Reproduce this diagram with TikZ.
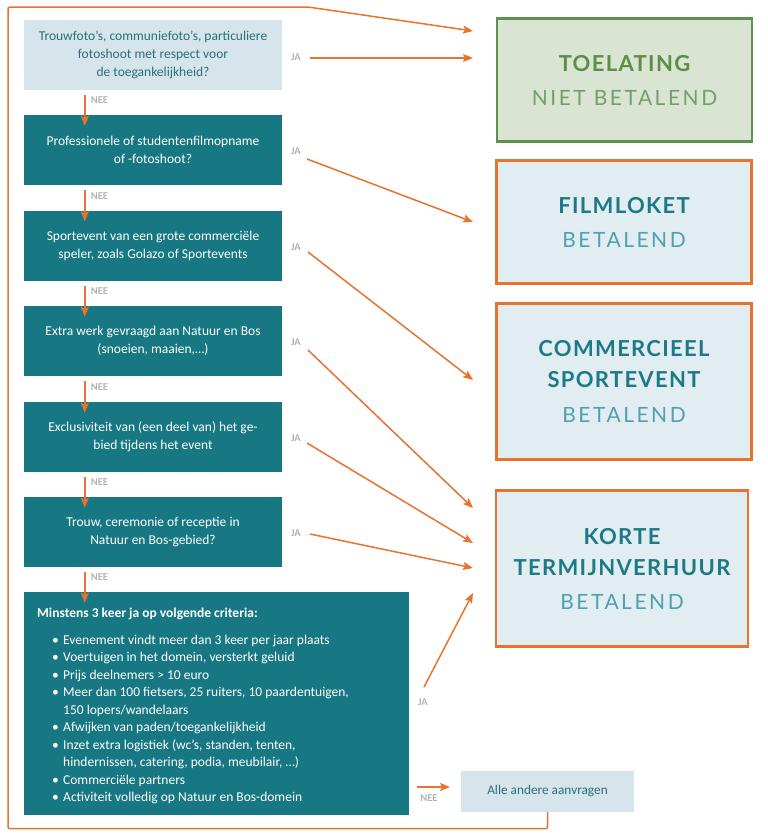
\documentclass[tikz,border=0pt]{standalone}
\usepackage{fontspec}
\setmainfont{Carlito}
\newfontfamily\titlefont[LetterSpace=6]{Lato}
\newfontfamily\subfont[LetterSpace=12]{Lato}
\usetikzlibrary{arrows.meta,calc}
\definecolor{tealbox}{HTML}{177883}
\definecolor{lightbox}{HTML}{D6E5EB}
\definecolor{darkteal}{HTML}{2B6E79}
\definecolor{orangeline}{HTML}{E8732C}
\definecolor{resfill}{HTML}{E2EDF1}
\definecolor{greenline}{HTML}{5E9150}
\definecolor{greenfill}{HTML}{D9E4D3}
\definecolor{greentext}{HTML}{5B8F45}
\definecolor{greensub}{HTML}{73A06A}
\definecolor{titleteal}{HTML}{1C7A87}
\definecolor{subteal}{HTML}{4FA0B0}
\definecolor{lblgray}{HTML}{B2B2B2}
\tikzset{
  qbox/.style={fill=tealbox, text=white, minimum width=258pt, minimum height=70pt,
    align=center, inner sep=0pt, font=\fontsize{13.5}{18}\selectfont},
  firstbox/.style={qbox, fill=lightbox, text=darkteal},
  resbox/.style={draw=orangeline, line width=2.6pt, fill=resfill, minimum width=255pt,
    align=center, inner sep=0pt, font=\fontsize{22}{31}\selectfont},
  conn/.style={draw=orangeline, line width=1.5pt, -{Stealth[length=10pt,width=8pt,inset=2pt]}},
  lbl/.style={text=lblgray, font=\fontsize{10.5}{10}\selectfont\bfseries, inner sep=0pt},
}
\newcommand\ttlf{\titlefont\bfseries\fontsize{22}{31}\selectfont}
\newcommand\subf{\subfont\fontsize{21}{31}\selectfont}
\newcommand\crit[1]{\hspace*{15pt}\makebox[11pt][l]{\textbullet}#1}
\newcommand\critcont[1]{\hspace*{26pt}#1}
\begin{document}
\begin{tikzpicture}[x=1pt,y=-1pt]
\useasboundingbox (0,0) rectangle (768,839);
% question boxes
\node[firstbox] (b1) at (153,55) {Trouwfoto’s, communiefoto’s, particuliere\\fotoshoot met respect voor\\de toegankelijkheid?};
\node[qbox] (b2) at (153,150) {Professionele of studentenfilmopname\\of -fotoshoot?};
\node[qbox] (b3) at (153,245.5) {Sportevent van een grote commerciële\\speler, zoals Golazo of Sportevents};
\node[qbox] (b4) at (153,341) {Extra werk gevraagd aan Natuur en Bos\\(snoeien, maaien,…)};
\node[qbox] (b5) at (153,437) {Exclusiviteit van (een deel van) het ge-\\bied tijdens het event};
\node[qbox] (b6) at (153,532) {Trouw, ceremonie of receptie in\\Natuur en Bos-gebied?};
\node[fill=tealbox, minimum width=385pt, minimum height=223pt, inner sep=0pt] (b7) at (216.5,703.5) {};
\node[anchor=north west, text=white, align=left, inner sep=0pt,
  font=\fontsize{13.5}{17.5}\selectfont] (crit) at (37,607.5)
  {\textbf{Minstens 3 keer ja op volgende criteria:}\\[9.5pt]
   \crit{Evenement vindt meer dan 3 keer per jaar plaats}\\
   \crit{Voertuigen in het domein, versterkt geluid}\\
   \crit{Prijs deelnemers > 10 euro}\\
   \crit{Meer dan 100 fietsers, 25 ruiters, 10 paardentuigen,}\\
   \critcont{150 lopers/wandelaars}\\
   \crit{Afwijken van paden/toegankelijkheid}\\
   \crit{Inzet extra logistiek (wc’s, standen, tenten,}\\
   \critcont{hindernissen, catering, podia, meubilair, …)}\\
   \crit{Commerciële partners}\\
   \crit{Activiteit volledig op Natuur en Bos-domein}};
% result boxes
\node[resbox, draw=greenline, fill=greenfill, minimum height=123pt] (toel) at (624.5,80)
  {{\ttlf\color{greentext}TOELATING}\\[3pt]{\subf\color{greensub}NIET BETALEND}};
\node[resbox, minimum height=123pt] (film) at (624,222)
  {{\ttlf\color{titleteal}FILMLOKET}\\[3pt]{\subf\color{subteal}BETALEND}};
\node[resbox, minimum height=156pt] (comm) at (624,381.5)
  {{\ttlf\color{titleteal}COMMERCIEEL}\\{\ttlf\color{titleteal}SPORTEVENT}\\[4pt]{\subf\color{subteal}BETALEND}};
\node[resbox, minimum width=252pt, minimum height=156pt] (korte) at (622,568.5)
  {{\ttlf\color{titleteal}KORTE}\\{\ttlf\color{titleteal}TERMIJNVERHUUR}\\[3pt]{\subf\color{subteal}BETALEND}};
\node[fill=lightbox, text=darkteal, minimum width=173pt, minimum height=41pt, inner sep=0pt,
  font=\fontsize{13.3}{14}\selectfont] (alle) at (547.5,791.5) {Alle andere aanvragen};
% NEE connectors
\foreach \a/\b in {b1/b2,b2/b3,b3/b4,b4/b5,b5/b6}{
  \draw[conn] ([xshift=61pt,yshift=-5pt]\a.south west) -- ([xshift=61pt,yshift=-11pt]\b.north west);
}
\draw[conn] ([xshift=61pt,yshift=-5pt]b6.south west) -- ([xshift=61pt,yshift=-11pt]b7.north west);
\foreach \y [count=\i] in {100,196,291,387,482,577}{
  \node[lbl] (nee\i) at (99.5,\y) {NEE};
}
% JA labels and arrows
\node[lbl] (ja1) at (296,57) {JA};
\node[lbl] (ja2) at (296,151) {JA};
\node[lbl] (ja3) at (296,247) {JA};
\node[lbl] (ja4) at (296,342) {JA};
\node[lbl] (ja5) at (296,438) {JA};
\node[lbl] (ja6) at (296,533) {JA};
\node[lbl] (ja7) at (423,702) {JA};
\node[lbl] (nee7) at (429,798) {NEE};
\coordinate (s1) at (310,58);
\coordinate (s2) at (307,159);
\coordinate (s3) at (308,252);
\coordinate (s4) at (308,350);
\coordinate (s5) at (307,443);
\coordinate (s6) at (310,534);
\coordinate (s7) at (424,687);
\coordinate (s8) at (417,787);
\coordinate (t1) at (473,58);
\coordinate (t0) at (473,31);
\coordinate (t2) at (473,222);
\coordinate (t3) at (473,380);
\coordinate (t4) at (473,508);
\coordinate (t5) at (473,543);
\coordinate (t6) at (473,568);
\coordinate (t7) at (473,593);
\coordinate (t8) at (450,787);
\draw[conn] (s1) -- (t1);
\draw[conn] (s2) -- (t2);
\draw[conn] (s3) -- (t3);
\draw[conn] (s4) -- (t4);
\draw[conn] (s5) -- (t5);
\draw[conn] (s6) -- (t6);
\draw[conn] (s7) -- (t7);
\draw[conn] (s8) -- (t8);
% loop back from "Alle andere aanvragen" to TOELATING
\coordinate (lp) at (308,7);
\draw[conn, rounded corners=2pt] (alle.south) -- ++(0,16.5) -| (8,7) -- (lp) -- (t0);
\end{tikzpicture}
\end{document}
